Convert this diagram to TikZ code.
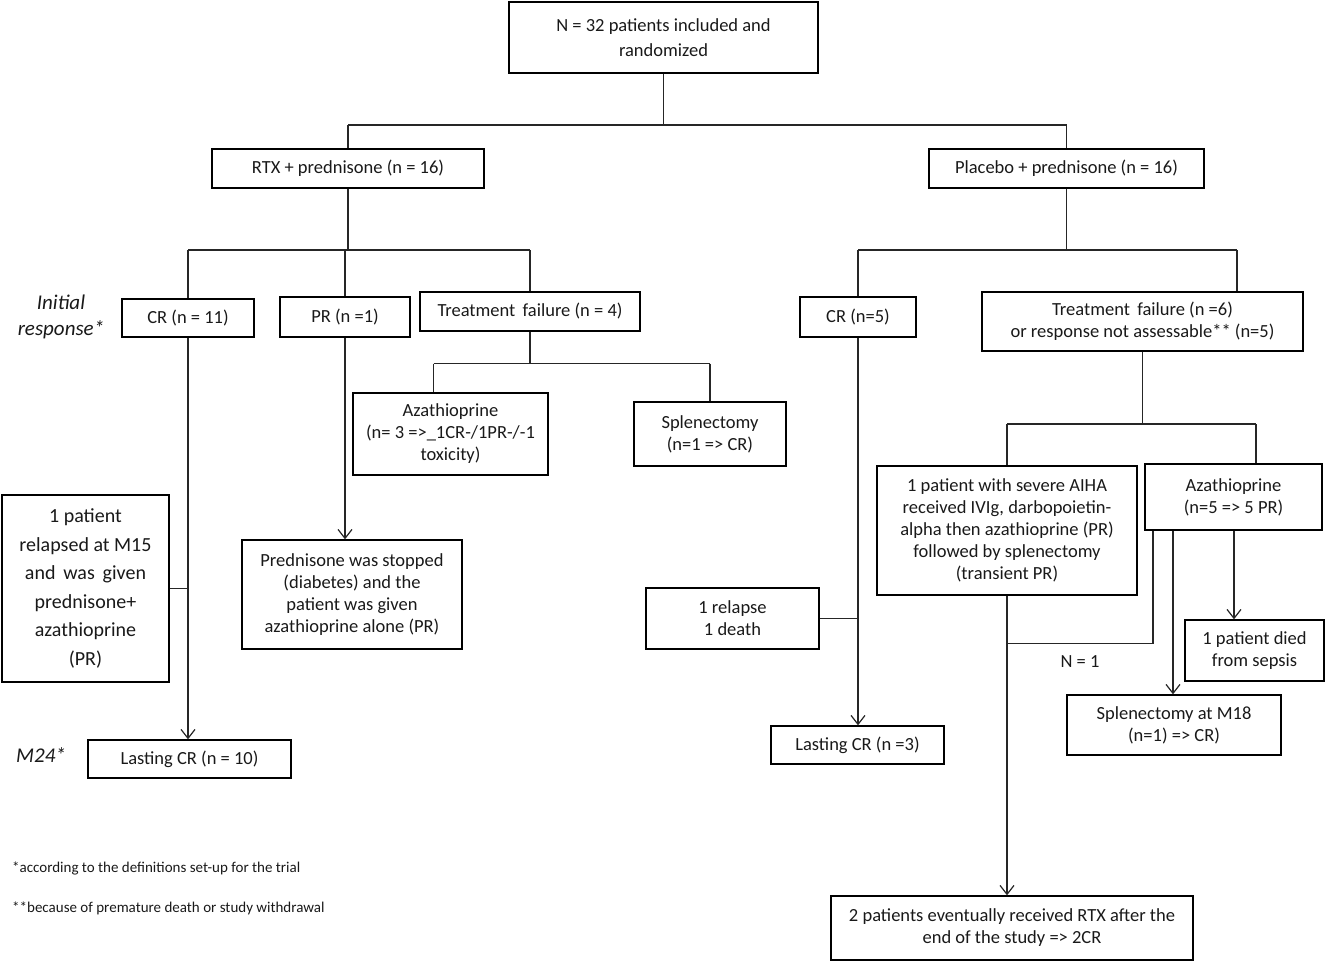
\documentclass[tikz,border=0pt]{standalone}
\usepackage{fontspec}
\setmainfont{Carlito}
\usetikzlibrary{arrows.meta}
\newcommand{\mainsz}{\fontsize{18.5}{22}\selectfont}
\newcommand{\bigsz}{\fontsize{20}{28.5}\selectfont}
\newcommand{\topsz}{\fontsize{18.5}{25}\selectfont}
\newcommand{\itsz}{\fontsize{21}{26}\selectfont\itshape}
\newcommand{\footsz}{\fontsize{15}{18}\selectfont}
\begin{document}
\begin{tikzpicture}[x=1pt,y=-1pt,
  box/.style={draw,line width=1.3pt,inner sep=0pt,align=center,font=\mainsz,text=black!90},
  ln/.style={line width=1.2pt,draw=black!85},
  arr/.style={ln,-{Straight Barb[length=9pt,width=14pt,line width=1.2pt]}},
  lbl/.style={inner sep=0pt,align=center,text=black!90}]
\useasboundingbox (0,0) rectangle (1328,964);
% nodes
\node[box,font=\topsz,minimum width=309pt,minimum height=71pt] (top) at (663.5,37.5) {N = 32 patients included and\\randomized};
\node[box,minimum width=272pt,minimum height=39pt] (rtx) at (348,168.5) {RTX + prednisone (n = 16)};
\node[box,minimum width=275pt,minimum height=39pt] (plc) at (1066.5,168.5) {Placebo + prednisone (n = 16)};
\node[box,minimum width=132pt,minimum height=38pt] (cr1) at (188,318) {CR (n = 11)};
\node[box,minimum width=130pt,minimum height=40pt] (pr1) at (345,317) {PR (n =1)};
\node[box,minimum width=220pt,minimum height=39pt] (tf1) at (530,311.5) {Treatment\, failure (n = 4)};
\node[box,minimum width=195pt,minimum height=82pt] (aza1) at (450.5,434) {Azathioprine\\(n= 3 =>\_1CR-/1PR-/-1\\toxicity)};
\node[box,minimum width=152pt,minimum height=64pt] (spl1) at (710,434) {Splenectomy\\(n=1 => CR)};
\node[box,font=\bigsz,minimum width=167pt,minimum height=187pt] (rel1) at (85.5,588.5) {1 patient\\relapsed at M15\\and\, was\, given\\prednisone+\\azathioprine\\(PR)};
\node[box,minimum width=203pt,minimum height=38pt] (lcr1) at (189.5,759) {Lasting CR (n = 10)};
\node[box,minimum width=220pt,minimum height=109pt] (pred) at (352,594.5) {Prednisone was stopped\\(diabetes) and the\\patient was given\\azathioprine alone (PR)};
\node[box,minimum width=116pt,minimum height=40pt] (cr2) at (858,317) {CR (n=5)};
\node[box,minimum width=321pt,minimum height=59pt] (tf2) at (1142.5,321.5) {Treatment\, failure (n =6)\\or response not assessable** (n=5)};
\node[box,minimum width=260pt,minimum height=129pt] (aiha) at (1007,530.5) {1 patient with severe AIHA\\received IVIg, darbopoietin-\\alpha then azathioprine (PR)\\followed by splenectomy\\(transient PR)};
\node[box,minimum width=177pt,minimum height=66pt] (aza2) at (1233.5,497) {Azathioprine\\(n=5 => 5 PR)};
\node[box,minimum width=173pt,minimum height=61pt] (rel2) at (732.5,618.5) {1 relapse\\1 death};
\node[box,minimum width=173pt,minimum height=38pt] (lcr2) at (857.5,745) {Lasting CR (n =3)};
\node[box,minimum width=139pt,minimum height=61pt] (died) at (1254.5,650.5) {1 patient died\\from sepsis};
\node[box,minimum width=214pt,minimum height=60pt] (spl2) at (1174,725) {Splenectomy at M18\\(n=1) => CR)};
\node[box,minimum width=362pt,minimum height=64pt] (two) at (1012,928) {2 patients eventually received RTX after the\\end of the study => 2CR};
% labels
\node[lbl,font=\itsz] (ir) at (61,317) {Initial\\response*};
\node[lbl,font=\itsz] (m24) at (41,755) {M24*};
\node[lbl,font=\mainsz] (n1) at (1080,662) {N = 1};
\node[lbl,font=\footsz,anchor=west] (f1) at (12,868) {*according to the definitions set-up for the trial};
\node[lbl,font=\footsz,anchor=west] (f2) at (12,908) {**because of premature death or study withdrawal};
% connectors top
\coordinate (j0) at (663.5,125);
\draw[ln] (top.south) -- (j0);
\draw[ln] (rtx.north |- j0) -- (plc.north |- j0);
\draw[ln] (rtx.north |- j0) -- (rtx.north);
\draw[ln] (plc.north |- j0) -- (plc.north);
% left arm
\coordinate (j1) at (348,250);
\draw[ln] (rtx.south) -- (j1);
\draw[ln] (cr1.north |- j1) -- (tf1.north |- j1);
\draw[ln] (cr1.north |- j1) -- (cr1.north);
\draw[ln] (pr1.north |- j1) -- (pr1.north);
\draw[ln] (tf1.north |- j1) -- (tf1.north);
\coordinate (j2) at (530,363.5);
\coordinate (j2a) at (433.5,363.5);
\coordinate (j2b) at (710,363.5);
\draw[ln] (tf1.south) -- (j2);
\draw[ln] (j2a) -- (j2b);
\draw[ln] (j2a) -- (j2a |- aza1.north);
\draw[ln] (j2b) -- (spl1.north);
\draw[arr] (cr1.south) -- (cr1.south |- lcr1.north);
\draw[ln] (rel1.east) -- (rel1.east -| cr1.south);
\draw[arr] (pr1.south) -- (pr1.south |- pred.north);
% right arm
\coordinate (j3) at (1066.5,250);
\coordinate (j3b) at (1237,250);
\draw[ln] (plc.south) -- (j3);
\draw[ln] (cr2.north |- j3) -- (j3b);
\draw[ln] (cr2.north |- j3) -- (cr2.north);
\draw[ln] (j3b) -- (j3b |- tf2.north);
\draw[arr] (cr2.south) -- (cr2.south |- lcr2.north);
\draw[ln] (rel2.east) -- (rel2.east -| cr2.south);
\coordinate (j4) at (1142.5,424);
\coordinate (j4a) at (1007,424);
\coordinate (j4b) at (1256,424);
\draw[ln] (tf2.south) -- (j4);
\draw[ln] (j4a) -- (j4b);
\draw[ln] (j4a) -- (aiha.north);
\draw[ln] (j4b) -- (j4b |- aza2.north);
\draw[arr] (aiha.south) -- (aiha.south |- two.north);
\coordinate (k1) at (1153,643.5);
\coordinate (k2) at (1173,600);
\coordinate (k3) at (1234,600);
\draw[ln] (k1 |- aza2.south) -- (k1) -- (k1 -| aiha.south);
\draw[arr] (k2 |- aza2.south) -- (k2 |- spl2.north);
\draw[arr] (k3 |- aza2.south) -- (k3 |- died.north);
\end{tikzpicture}
\end{document}
